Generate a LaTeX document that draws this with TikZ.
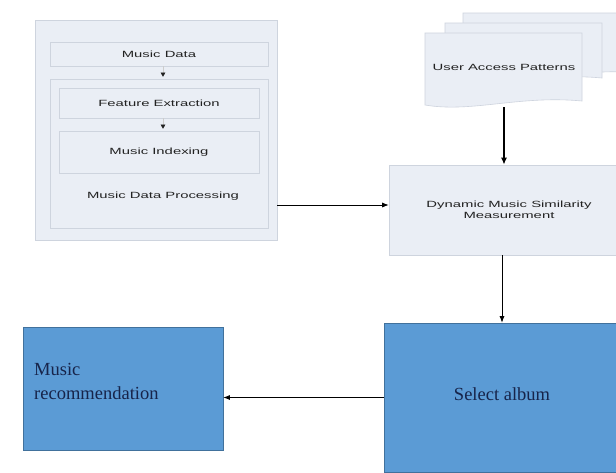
\documentclass[tikz,border=0pt]{standalone}
\usepackage{fontspec}
\setmainfont{Liberation Serif}
\newfontfamily\diasans[FakeStretch=1.65]{Liberation Sans}
\usetikzlibrary{arrows.meta}
\definecolor{lightfill}{HTML}{EAEEF5}
\definecolor{lightline}{HTML}{CED4DE}
\definecolor{bluefill}{HTML}{5B9BD5}
\definecolor{blueline}{HTML}{41719C}
\definecolor{navy}{HTML}{17244A}
\definecolor{textgray}{HTML}{222222}
\begin{document}
\begin{tikzpicture}[x=1pt,y=-1pt,
  lightbox/.style={draw=lightline, fill=lightfill, line width=0.6pt, inner sep=0pt},
  docpage/.style={draw=lightline, fill=lightfill, line width=0.6pt},
  sanstext/.style={font=\diasans\fontsize{9}{11}\selectfont, text=textgray, align=center},
  bluebox/.style={draw=blueline, fill=bluefill, line width=0.7pt, inner sep=0pt},
  seriftext/.style={font=\fontsize{18.5}{24}\selectfont, text=navy},
  conn/.style={draw=black, line width=0.8pt, -{Latex[length=6.5pt,width=5pt]}},
  thickconn/.style={draw=black, line width=1.8pt, -{Latex[length=7pt,width=6pt]}},
  smallconn/.style={draw=gray!40, line width=0.4pt, -{Triangle[length=4pt,width=4.5pt,color=textgray]}}
]
\clip (0,0) rectangle (616,472);
\fill[white] (0,0) rectangle (616,472);

% left processing group
\node[lightbox, minimum width=242pt, minimum height=220pt] (outer) at (156,130) {};
\node[lightbox, minimum width=218pt, minimum height=24pt, sanstext] (md) at (159,54) {Music Data};
\node[lightbox, minimum width=218pt, minimum height=149pt] (cont) at (159,153.5) {};
\node[lightbox, minimum width=200pt, minimum height=30pt, sanstext] (fe) at (159,103) {Feature Extraction};
\node[lightbox, minimum width=200pt, minimum height=42pt, sanstext] (mi) at (159,152) {Music Indexing};
\node[sanstext] (mdp) at (163,196) {Music Data Processing};
\draw[smallconn] (md.south -| mdp) -- ([yshift=2pt]cont.north -| mdp);
\draw[smallconn] (fe.south -| mdp) -- ([yshift=2pt]mi.north -| mdp);

% document stack
\path[docpage] (463,13) -- (625,13) -- (625,72) .. controls (590,70) and (540,80) .. (463,76) -- cycle;
\path[docpage] (445,23) -- (602,23) -- (602,78) .. controls (539,72) and (492,90) .. (445,82) -- cycle;
\path[docpage] (425,33) -- (582,33) -- (582,101) .. controls (519,95) and (472,113) .. (425,105) -- cycle;
\node[sanstext] (uap) at (504,67) {User Access Patterns};
\coordinate (docb) at (504,107);

% similarity box
\node[lightbox, minimum width=240pt, minimum height=90pt, sanstext] (dyn) at (509,210) {Dynamic Music Similarity\\Measurement};

% blue boxes
\node[bluebox, minimum width=200pt, minimum height=123pt] (rec) at (123,388.5) {};
\node[seriftext, anchor=north west, align=left, inner sep=0pt] (rectext) at (34,363) {Music\\recommendation};
\node[bluebox, minimum width=236pt, minimum height=149pt] (sel) at (502,397.5) {};
\node[seriftext] (seltext) at (502,394) {Select album};

% connectors
\draw[thickconn] (docb) -- (dyn.north -| docb);
\draw[conn] ([yshift=5pt]dyn.west -| outer.east) -- ([yshift=5pt]dyn.west);
\draw[conn] (sel.north |- dyn.south) -- (sel.north);
\draw[conn] (sel.west) -- (sel.west -| rec.east);
\end{tikzpicture}
\end{document}
